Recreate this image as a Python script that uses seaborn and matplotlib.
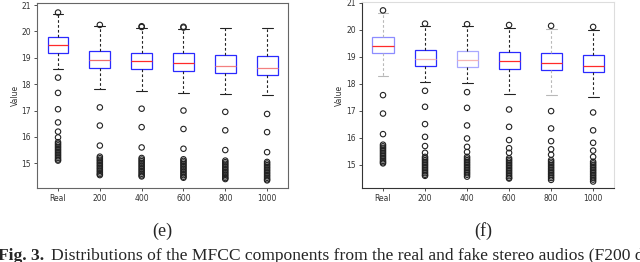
import numpy as np
import pandas as pd
import matplotlib
matplotlib.use("Agg")
import matplotlib.pyplot as plt
import seaborn as sns

CATS = ["Real", "200", "400", "600", "800", "1000"]

# (e) five-number summaries
E_LO  = [18.58, 17.80, 17.75, 17.68, 17.63, 17.60]
E_Q1  = [19.18, 18.60, 18.57, 18.50, 18.42, 18.33]
E_MED = [19.47, 18.93, 18.87, 18.80, 18.70, 18.63]
E_Q3  = [19.80, 19.27, 19.20, 19.17, 19.12, 19.07]
E_HI  = [20.65, 20.22, 20.13, 20.10, 20.15, 20.12]
E_OUT = {
    "Real": [20.72, 18.25, 17.67, 17.05, 16.55, 16.20, 15.98, 15.80, 15.74, 15.68, 15.62,
             15.56, 15.50, 15.44, 15.38, 15.32, 15.26, 15.20, 15.14, 15.10],
    "200":  [20.25, 17.12, 16.43, 15.67, 15.25, 15.19, 15.13, 15.07, 15.01, 14.95, 14.89,
             14.83, 14.77, 14.71, 14.65, 14.59, 14.55],
    "400":  [20.20, 20.17, 17.07, 16.37, 15.60, 15.20, 15.14, 15.08, 15.02, 14.96, 14.90,
             14.84, 14.78, 14.72, 14.66, 14.60, 14.54, 14.50],
    "600":  [20.18, 20.15, 17.00, 16.30, 15.55, 15.15, 15.09, 15.03, 14.97, 14.91, 14.85,
             14.79, 14.73, 14.67, 14.61, 14.55, 14.49, 14.45],
    "800":  [16.95, 16.25, 15.50, 15.10, 15.04, 14.98, 14.92, 14.86, 14.80, 14.74, 14.68,
             14.62, 14.56, 14.50, 14.44, 14.40],
    "1000": [16.87, 16.18, 15.42, 15.05, 14.99, 14.93, 14.87, 14.81, 14.75, 14.69, 14.63,
             14.57, 14.51, 14.45, 14.39, 14.35],
}

# (f)
F_LO  = [18.28, 18.07, 18.03, 17.63, 17.57, 17.50]
F_Q1  = [19.12, 18.66, 18.61, 18.56, 18.50, 18.44]
F_MED = [19.40, 18.93, 18.88, 18.83, 18.75, 18.67]
F_Q3  = [19.73, 19.26, 19.21, 19.18, 19.14, 19.08]
F_HI  = [20.61, 20.13, 20.13, 20.07, 20.04, 20.00]
F_OUT = {
    "Real": [20.71, 17.58, 16.90, 16.14, 15.75, 15.69, 15.63, 15.57, 15.51, 15.45, 15.39,
             15.33, 15.27, 15.21, 15.15, 15.10, 15.06],
    "200":  [20.22, 17.74, 17.15, 16.51, 16.04, 15.70, 15.45, 15.30, 15.24, 15.18, 15.12,
             15.06, 15.00, 14.94, 14.88, 14.82, 14.76, 14.70, 14.64, 14.60],
    "400":  [20.20, 17.69, 17.11, 16.46, 15.98, 15.67, 15.48, 15.30, 15.24, 15.18, 15.12,
             15.06, 15.00, 14.94, 14.88, 14.82, 14.76, 14.70, 14.64, 14.57],
    "600":  [20.17, 17.05, 16.41, 15.92, 15.62, 15.45, 15.25, 15.19, 15.13, 15.07, 15.01,
             14.95, 14.89, 14.83, 14.77, 14.71, 14.65, 14.59, 14.53, 14.50],
    "800":  [20.14, 16.99, 16.35, 15.88, 15.58, 15.38, 15.18, 15.12, 15.06, 15.00, 14.94,
             14.88, 14.82, 14.76, 14.70, 14.64, 14.58, 14.52, 14.45],
    "1000": [20.10, 16.94, 16.28, 15.82, 15.53, 15.30, 15.12, 15.06, 15.00, 14.94, 14.88,
             14.82, 14.76, 14.70, 14.64, 14.58, 14.52, 14.46, 14.39],
}

# per-box tints (the faded look of the scanned figure)
E_MED_COL = ["#ff2a2a", "#f26a6a", "#ff2a2a", "#ff2a2a", "#f38080", "#f38080"]
F_MED_COL = ["#ff2a2a", "#f7b4b4", "#f7b4b4", "#ff2a2a", "#ff2a2a", "#ff2a2a"]
F_BOX_COL = ["#8c8cff", "#2a2aff", "#a8a8ff", "#2a2aff", "#2a2aff", "#2a2aff"]
F_WHI_COL = ["#b8b8b8", "#222222", "#222222", "#222222", "#b8b8b8", "#222222"]


def core_frame(lo, q1, med, q3, hi):
    rows = []
    for c, *vals in zip(CATS, lo, q1, med, q3, hi):
        rows += [(c, v) for v in vals]
    return pd.DataFrame(rows, columns=["grp", "Value"])


def out_frame(out):
    return pd.DataFrame([(c, v) for c in CATS for v in out[c]], columns=["grp", "Value"])


def draw(ax, core, out, ylim, med_cols, box_cols, whi_cols, labelpad):
    sns.boxplot(data=core, x="grp", y="Value", order=CATS, whis=(0, 100), width=0.5,
                showfliers=False, color="white", saturation=1, linewidth=0.9, ax=ax,
                boxprops=dict(facecolor="white", edgecolor="#2a2aff"),
                medianprops=dict(color="red", linewidth=0.9),
                whiskerprops=dict(color="#222222", linewidth=0.8, linestyle=(0, (2.4, 2.0))),
                capprops=dict(color="#222222", linewidth=0.8))
    # recolour each box's parts, narrow the caps
    for ln in ax.lines:
        xs = np.asarray(ln.get_xdata(), dtype=float)
        i = int(round(xs.mean()))
        if ln.get_linestyle() not in ("-", "solid"):
            ln.set_color(whi_cols[i])
        elif matplotlib.colors.same_color(ln.get_color(), "red"):
            ln.set_color(med_cols[i])
        else:
            ln.set_color(whi_cols[i])
            ln.set_xdata([i - 0.13, i + 0.13])
    for p in ax.patches:
        i = int(round(np.mean(p.get_path().vertices[:, 0])))
        p.set_edgecolor(box_cols[i])
    sns.stripplot(data=out, x="grp", y="Value", order=CATS, jitter=False, size=3.9,
                  facecolor="none", edgecolor="#222222", linewidth=0.8, ax=ax)
    ax.set_xlim(-0.5, 5.5)
    ax.set_ylim(*ylim)
    ax.set_yticks([15, 16, 17, 18, 19, 20, 21])
    ax.set_xlabel("")
    ax.set_ylabel("Value", fontsize=5.5, color="#333333", labelpad=labelpad)
    ax.tick_params(labelsize=5.5, length=2.5, width=0.6, pad=2, colors="#333333")


sns.set_style("ticks")
plt.rcParams["font.family"] = ["DejaVu Sans"]

fig = plt.figure(figsize=(6.4, 2.62), dpi=100)
ax_e = fig.add_axes([0.058, 0.2824, 0.392, 0.706])
ax_f = fig.add_axes([0.5656, 0.2824, 0.394, 0.710])

draw(ax_e, core_frame(E_LO, E_Q1, E_MED, E_Q3, E_HI), out_frame(E_OUT), (14.06, 21.08),
     E_MED_COL, ["#2a2aff"] * 6, ["#222222"] * 6, 1.0)
draw(ax_f, core_frame(F_LO, F_Q1, F_MED, F_Q3, F_HI), out_frame(F_OUT), (14.15, 21.02),
     F_MED_COL, F_BOX_COL, F_WHI_COL, 1.5)

for s in ax_e.spines.values():
    s.set_color("#666666")
    s.set_linewidth(0.8)
for k, s in ax_f.spines.items():
    s.set_linewidth(0.8)
    s.set_color("#333333" if k in ("left", "bottom") else "#dddddd")

serif = ["Liberation Serif", "DejaVu Serif"]
fig.text(0.253, 0.118, "(e)", ha="center", va="center", fontsize=13, family=serif)
fig.text(0.755, 0.118, "(f)", ha="center", va="center", fontsize=13, family=serif)

# caption, cut by the lower and right edges as in the source
base_y = 0.008
bold = fig.text(-0.003, base_y, "Fig. 3.", ha="left", va="baseline", fontsize=12.6,
                family=serif, fontweight="bold")
fig.canvas.draw()
bb = bold.get_window_extent(fig.canvas.get_renderer())
x_next = (bb.x1 + 7) / fig.bbox.width
fig.text(x_next, base_y, "Distributions of the MFCC components from the real and fake "
         "stereo audios (F200 dataset).", ha="left", va="baseline", fontsize=12.6,
         family=serif)

fig.savefig("out.png", dpi=100)
